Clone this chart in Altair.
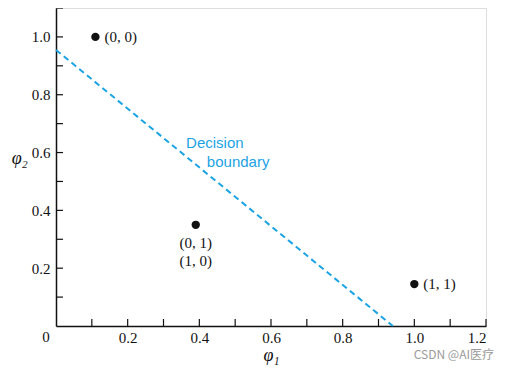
import altair as alt
import pandas as pd

# Data
pt_phi1 = [0.11, 0.39, 1.0]
pt_phi2 = [1.0, 0.35, 0.145]

lab_text = ["(0, 0)", "(0, 1)", "(1, 0)", "(1, 1)"]
lab_phi1 = [0.11, 0.39, 0.39, 1.0]
lab_phi2 = [1.0, 0.35, 0.35, 0.145]
lab_dx = [9, 0, 0, 9]
lab_dy = [0, 18, 36, 0]
lab_align = ["left", "center", "center", "left"]

bd_phi1 = [0.0, 0.94]
bd_phi2 = [0.955, 0.0]

ann_text = ["Decision", "boundary"]
ann_phi1 = [0.363, 0.421]
ann_phi2 = [0.633, 0.567]

x_ticks = [0.1, 0.2, 0.3, 0.4, 0.5, 0.6, 0.7, 0.8, 0.9, 1.0, 1.1, 1.2]
y_ticks = [0.1, 0.2, 0.3, 0.4, 0.5, 0.6, 0.7, 0.8, 0.9, 1.0, 1.1]
x_labels = [0.2, 0.4, 0.6, 0.8, 1.0, 1.2]
y_labels = [0.2, 0.4, 0.6, 0.8, 1.0]

W, H = 430, 318
SERIF = "Liberation Serif"
BLUE = "#1ba3e4"

xs = alt.Scale(domain=[0, 1.2], nice=False, zero=False)
ys = alt.Scale(domain=[0, 1.1], nice=False, zero=False)

pts = pd.DataFrame({"x": pt_phi1, "y": pt_phi2})
labs = pd.DataFrame({"x": lab_phi1, "y": lab_phi2, "t": lab_text, "dx": lab_dx, "dy": lab_dy, "a": lab_align})
bd = pd.DataFrame({"x": bd_phi1, "y": bd_phi2})
ann = pd.DataFrame({"x": ann_phi1, "y": ann_phi2, "t": ann_text})
xt = pd.DataFrame({"x": x_ticks})
yt = pd.DataFrame({"y": y_ticks})

base = alt.Chart(pts).mark_circle(size=70, color="#111111", opacity=1).encode(
    x=alt.X("x:Q", scale=xs, axis=alt.Axis(
        title="φ₁", values=x_labels, format=".1f", ticks=False, grid=False,
        domainColor="#111111", domainWidth=1.5, labelFont=SERIF, labelFontSize=15,
        labelColor="#111111", labelPadding=4, titleFont=SERIF, titleFontSize=18,
        titleFontStyle="italic", titleFontWeight="normal", titleColor="#111111", titlePadding=1)),
    y=alt.Y("y:Q", scale=ys, axis=alt.Axis(
        title="φ₂", values=y_labels, format=".1f", ticks=False, grid=False,
        domainColor="#111111", domainWidth=1.5, labelFont=SERIF, labelFontSize=15,
        labelColor="#111111", labelPadding=6, titleFont=SERIF, titleFontSize=18,
        titleFontStyle="italic", titleFontWeight="normal", titleColor="#111111",
        titleAngle=0, titlePadding=12)),
)

line = alt.Chart(bd).mark_line(color=BLUE, strokeWidth=2, strokeDash=[6, 4]).encode(
    x=alt.X("x:Q", scale=xs), y=alt.Y("y:Q", scale=ys))

texts = []
for i in range(len(lab_text)):
    texts.append(alt.Chart(labs.iloc[[i]]).mark_text(
        font=SERIF, fontSize=15, color="#111111", align=lab_align[i], baseline="middle",
        dx=lab_dx[i], dy=lab_dy[i]).encode(
        x=alt.X("x:Q", scale=xs), y=alt.Y("y:Q", scale=ys), text="t:N"))

ann_t = alt.Chart(ann).mark_text(font="Liberation Sans", fontSize=15, color=BLUE,
                                 align="left", baseline="middle").encode(
    x=alt.X("x:Q", scale=xs), y=alt.Y("y:Q", scale=ys), text="t:N")

xtick = alt.Chart(xt).mark_rule(color="#111111", strokeWidth=1.2).encode(
    x=alt.X("x:Q", scale=xs), y=alt.value(H), y2=alt.value(H - 7))
ytick = alt.Chart(yt).mark_rule(color="#111111", strokeWidth=1.2).encode(
    y=alt.Y("y:Q", scale=ys), x=alt.value(0), x2=alt.value(7))

zero = alt.Chart(pd.DataFrame({"t": ["0"]})).mark_text(
    font=SERIF, fontSize=15, color="#111111", align="center", baseline="middle").encode(
    x=alt.value(-10), y=alt.value(H + 11), text="t:N")

wm = alt.Chart(pd.DataFrame({"t": ["CSDN @AI医疗"]})).mark_text(
    font="Noto Sans CJK SC", fontSize=12, color="#9a9a9a", align="right", baseline="middle").encode(
    x=alt.value(438), y=alt.value(347), text="t:N")

chart = alt.layer(base, line, *texts, ann_t, xtick, ytick, zero, wm).properties(
    width=W, height=H,
    autosize=alt.AutoSizeParams(type="none"),
    padding={"left": 48, "top": 0, "right": 15, "bottom": 40},
).configure_view(stroke=None).configure(background="white")

chart.save("out.html", embed_options={"renderer": "svg", "actions": False})
